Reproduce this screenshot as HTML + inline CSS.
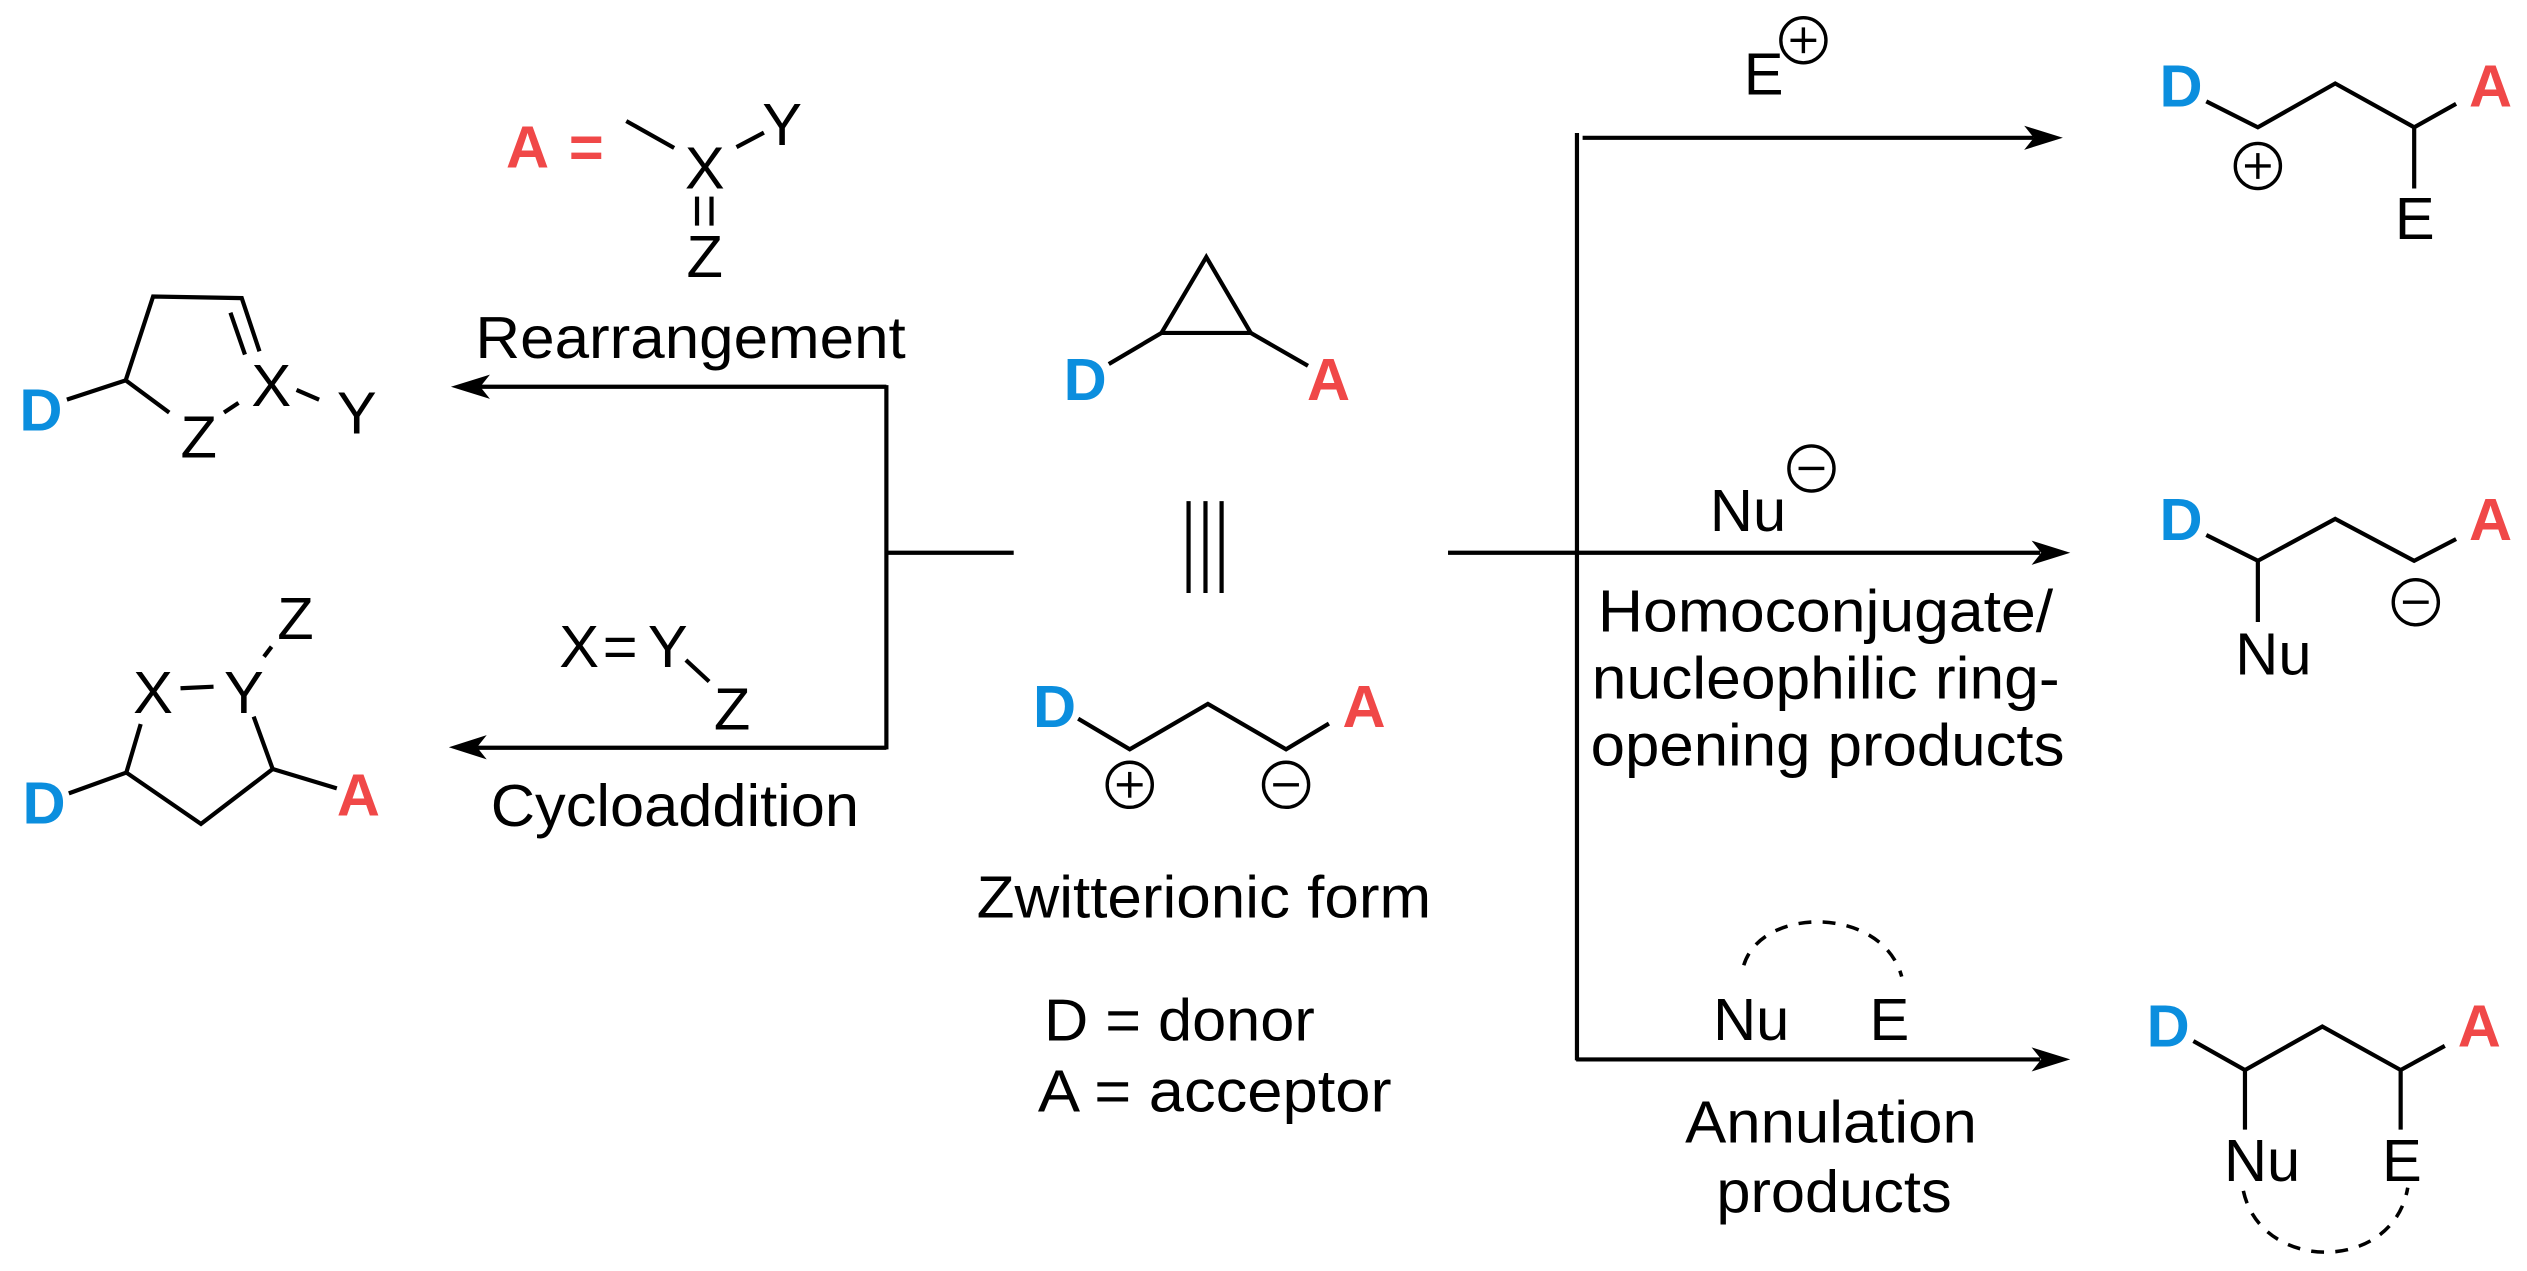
<!DOCTYPE html>
<html><head><meta charset="utf-8"><style>
html,body{margin:0;padding:0;background:#fff;}
svg{display:block;}
text{font-family:"Liberation Sans",Arial,sans-serif;fill:#000;}
.b{fill:#0b8ede;font-weight:bold;}
.r{fill:#f04848;font-weight:bold;}
</style></head><body>
<svg width="2527" height="1271" viewBox="0 0 1568 788.7" preserveAspectRatio="none" xmlns="http://www.w3.org/2000/svg">
<g stroke="#000" stroke-width="2.6" fill="none" stroke-linecap="butt">
<line x1="550" y1="240" x2="296" y2="240"/>
<line x1="550" y1="239" x2="550" y2="465"/>
<line x1="550" y1="343" x2="629" y2="343"/>
<line x1="550" y1="464" x2="296" y2="464"/>
<line x1="978.5" y1="82.5" x2="978.5" y2="658"/>
<line x1="982" y1="85.5" x2="1262" y2="85.5"/>
<line x1="898.5" y1="343" x2="1266" y2="343"/>
<line x1="978" y1="657.4" x2="1266" y2="657.4"/>
<line x1="388.6" y1="75.1" x2="418.3" y2="91.8"/>
<line x1="457" y1="91.3" x2="474" y2="82.3"/>
<line x1="432.5" y1="122" x2="432.5" y2="140"/>
<line x1="441.5" y1="122" x2="441.5" y2="140"/>
<polyline points="41.5,248 78,236 95,184 150,185 161,218"/>
<line x1="143" y1="194" x2="152" y2="220"/>
<line x1="78" y1="236" x2="105" y2="256"/>
<line x1="139" y1="256" x2="148" y2="250"/>
<line x1="184" y1="242" x2="198" y2="248"/>
<polyline points="87.3,449.3 78.4,479.4 124.7,511.3 169.2,477.2 157.4,444.7"/>
<line x1="42.7" y1="492.3" x2="78.4" y2="479.4"/>
<line x1="169.2" y1="477.2" x2="209" y2="489.2"/>
<line x1="112" y1="427.1" x2="132.5" y2="426.1"/>
<line x1="163.8" y1="407.5" x2="168.5" y2="401.3"/>
<line x1="425.6" y1="409.6" x2="440" y2="422.9"/>
<polygon points="748.5,159.5 720.7,206.6 776.1,206.6"/>
<line x1="688" y1="225.9" x2="720.7" y2="206.6"/>
<line x1="776.1" y1="206.6" x2="811.6" y2="227"/>
<line x1="737.5" y1="311" x2="737.5" y2="368"/>
<line x1="748" y1="311" x2="748" y2="368"/>
<line x1="758" y1="311" x2="758" y2="368"/>
<polyline points="669,446 701,465 749.5,436.8 798,465 824.6,449"/>
<polyline points="1369,62.9 1401,79 1449,51.8 1498,79 1524,64.4"/>
<line x1="1498" y1="79" x2="1498" y2="117"/>
<polyline points="1369,332 1401,348 1449,322 1498,348 1524,334.5"/>
<line x1="1401" y1="348" x2="1401" y2="386"/>
<polyline points="1361,646 1393,664 1441,637 1489.6,664 1517,649"/>
<line x1="1393" y1="664" x2="1393" y2="701"/>
<line x1="1489.6" y1="664" x2="1489.6" y2="701"/>
<path d="M1082,599 C1093,562 1168,562 1180,606" stroke-width="2.2" stroke-dasharray="8,7"/>
<path d="M1392,739 C1403,790 1485,790 1494,737" stroke-width="2.2" stroke-dasharray="8,7"/>
<g stroke-width="2.1">
<circle cx="1119" cy="25" r="14"/><line x1="1111" y1="25" x2="1127" y2="25"/><line x1="1119" y1="17" x2="1119" y2="33"/>
<circle cx="1124" cy="290.7" r="14"/><line x1="1116" y1="290.7" x2="1132" y2="290.7"/>
<circle cx="701" cy="487" r="14"/><line x1="693" y1="487" x2="709" y2="487"/><line x1="701" y1="479" x2="701" y2="495"/>
<circle cx="798" cy="487" r="14"/><line x1="790" y1="487" x2="806" y2="487"/>
<circle cx="1401" cy="103" r="14"/><line x1="1393" y1="103" x2="1409" y2="103"/><line x1="1401" y1="95" x2="1401" y2="111"/>
<circle cx="1499" cy="373.7" r="14"/><line x1="1491" y1="373.7" x2="1507" y2="373.7"/>
</g>
</g>
<g fill="#000">
<polygon points="279.8,240 304,232.5 298,240 304,247.5"/>
<polygon points="278.5,463.7 302,456.2 296,463.7 302,471.2"/>
<polygon points="1280,85.5 1256,78 1262,85.5 1256,93"/>
<polygon points="1284.6,343 1260.6,335.5 1266.6,343 1260.6,350.5"/>
<polygon points="1284.6,657.4 1260.6,649.9 1266.6,657.4 1260.6,664.9"/>
</g>
<g font-size="37">
<text x="314" y="104" class="r">A</text>
<text x="353" y="104" class="r">=</text>
<text x="425" y="117">X</text>
<text x="473" y="90">Y</text>
<text x="426" y="172">Z</text>
<text x="295" y="222" textLength="267" lengthAdjust="spacingAndGlyphs">Rearrangement</text>
<text x="12" y="267" class="b">D</text>
<text x="112" y="284">Z</text>
<text x="156" y="252">X</text>
<text x="209" y="269">Y</text>
<text x="347" y="414">X</text>
<text x="374" y="414">=</text>
<text x="402" y="414">Y</text>
<text x="443" y="452.6">Z</text>
<text x="304.5" y="512.6" textLength="228.5" lengthAdjust="spacingAndGlyphs">Cycloaddition</text>
<text x="82.6" y="442.6">X</text>
<text x="139" y="442.6">Y</text>
<text x="172" y="396.5">Z</text>
<text x="14" y="511" class="b">D</text>
<text x="209" y="506" class="r">A</text>
<text x="660" y="248.3" class="b">D</text>
<text x="811" y="248.3" class="r">A</text>
<text x="641" y="451" class="b">D</text>
<text x="833" y="451" class="r">A</text>
<text x="606" y="569.4" textLength="282" lengthAdjust="spacingAndGlyphs">Zwitterionic form</text>
<text x="647.8" y="645.7" textLength="168" lengthAdjust="spacingAndGlyphs">D = donor</text>
<text x="644" y="689.8" textLength="219.5" lengthAdjust="spacingAndGlyphs">A = acceptor</text>
<text x="1082" y="58.6">E</text>
<text x="1061" y="329.5">Nu</text>
<text x="991.5" y="392" textLength="282.5" lengthAdjust="spacingAndGlyphs">Homoconjugate/</text>
<text x="987.7" y="433.5" textLength="290.3" lengthAdjust="spacingAndGlyphs">nucleophilic ring-</text>
<text x="987" y="475" textLength="294" lengthAdjust="spacingAndGlyphs">opening products</text>
<text x="1063" y="645.4">Nu</text>
<text x="1160" y="645.4">E</text>
<text x="1045.6" y="709" textLength="181" lengthAdjust="spacingAndGlyphs">Annulation</text>
<text x="1065" y="752" textLength="146" lengthAdjust="spacingAndGlyphs">products</text>
<text x="1340" y="66" class="b">D</text>
<text x="1532" y="66" class="r">A</text>
<text x="1486" y="148.4">E</text>
<text x="1340" y="335" class="b">D</text>
<text x="1532" y="335" class="r">A</text>
<text x="1387" y="418.5">Nu</text>
<text x="1332" y="649.5" class="b">D</text>
<text x="1525" y="649.5" class="r">A</text>
<text x="1380" y="733">Nu</text>
<text x="1478" y="733">E</text>
</g>
</svg>
</body></html>
